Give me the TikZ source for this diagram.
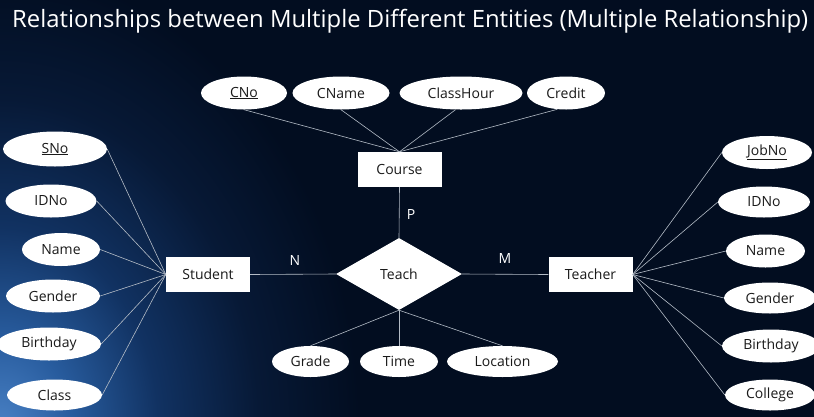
\documentclass[tikz,border=0pt]{standalone}
\usepackage{fontspec}
\setmainfont{Open Sans}
\usetikzlibrary{shapes.geometric}
\definecolor{bg}{HTML}{020D20}
\definecolor{glowa}{HTML}{4A82C6}
\definecolor{glowb}{HTML}{285C9E}
\definecolor{glowc}{HTML}{113262}
\definecolor{glowd}{HTML}{071936}
\definecolor{linkc}{HTML}{B4BCC6}
\definecolor{ink}{HTML}{1A1A1A}
% soft corner light of the backdrop
\pgfdeclareradialshading{cornerlight}{\pgfpoint{0bp}{0bp}}{%
  color(0bp)=(glowa); color(5bp)=(glowb); color(11bp)=(glowc);
  color(18bp)=(glowd); color(25bp)=(bg); color(50bp)=(bg)}
\pgfdeclarehorizontalshading{edgelight}{100bp}{%
  color(0bp)=(glowc); color(30bp)=(glowd); color(60bp)=(bg); color(100bp)=(bg)}
\begin{document}
\begin{tikzpicture}[x=1pt,y=-1pt,
  lbl/.style={font=\fontsize{14}{16}\selectfont},
  attr/.style={lbl, ellipse, fill=white, text=ink, inner sep=0pt, minimum height=33pt},
  entity/.style={lbl, rectangle, fill=white, text=ink, inner sep=0pt, minimum width=84pt, minimum height=35pt},
  rel/.style={lbl, diamond, fill=white, text=ink, inner sep=0pt, aspect=1.75, minimum width=126pt, minimum height=72pt},
  conn/.style={draw=linkc, line width=0.6pt},
  card/.style={lbl, text=white}]

% backdrop
\useasboundingbox (0,0) rectangle (814,416);
\fill[bg] (-5,-5) rectangle (819,421);
\begin{scope}
  \clip (-5,-5) rectangle (819,421);
  \shade[shading=edgelight] (-5,110) rectangle (75,421);
  \fill[bg] (-5,100) rectangle (819,110);
  \shade[shading=cornerlight] (0,430) ellipse (360 and 460);
\end{scope}

% title
\node[anchor=base west, text=white, inner sep=0pt] (title) at (12,27)
  {\resizebox{796pt}{!}{\fontsize{24}{28}\selectfont Relationships between Multiple Different Entities (Multiple Relationship)}};

% entities and relationship
\node[entity] (course) at (399.5,169.5) {Course};
\node[entity] (student) at (208,274.5) {Student};
\node[entity] (teacher) at (590.5,274.5) {Teacher};
\node[rel] (teach) at (399,274) {Teach};

% course attributes
\node[attr, minimum width=86pt] (cno) at (244,93) {\underline{CNo}};
\node[attr, minimum width=97pt] (cname) at (341,93) {CName};
\node[attr, minimum width=123pt] (classhour) at (461,93) {ClassHour};
\node[attr, minimum width=78pt] (credit) at (566,93) {Credit};

% student attributes
\node[attr, minimum width=104pt, minimum height=35pt] (sno) at (55,149) {\underline{SNo}};
\node[attr, minimum width=91pt] (sidno) at (51,201) {IDNo};
\node[attr, minimum width=78pt] (sname) at (61,249.5) {Name};
\node[attr, minimum width=94pt] (sgender) at (53,296) {Gender};
\node[attr, minimum width=104pt] (sbirthday) at (49,344) {Birthday};
\node[attr, minimum width=95pt, minimum height=31pt] (sclass) at (54.5,395) {Class};

% teacher attributes
\node[attr, minimum width=90pt] (jobno) at (767,152.5) {\underline{JobNo}};
\node[attr, minimum width=92pt, minimum height=31pt] (tidno) at (764,202) {IDNo};
\node[attr, minimum width=79pt] (tname) at (765.5,251) {Name};
\node[attr, minimum width=92pt, minimum height=31pt] (tgender) at (770,298) {Gender};
\node[attr, minimum width=98pt] (tbirthday) at (771,346) {Birthday};
\node[attr, minimum width=90pt, minimum height=31pt] (college) at (770,395) {College};

% relationship attributes
\node[attr, minimum width=77pt, minimum height=31pt] (grade) at (310.5,361.5) {Grade};
\node[attr, minimum width=78pt, minimum height=31pt] (time) at (399,361.5) {Time};
\node[attr, minimum width=111pt, minimum height=31pt] (location) at (502.5,361.5) {Location};

% attribute links
\draw[conn] (cno.south) -- (course.north);
\draw[conn] (cname.south) -- (course.north);
\draw[conn] (classhour.-108) -- (course.north);
\draw[conn] (credit.-118) -- (course.north);

\foreach \a in {sno,sidno,sname,sgender,sbirthday,sclass}
  \draw[conn] (\a.east) -- (student.west);
\foreach \a in {jobno,tidno,tname,tgender,tbirthday,college}
  \draw[conn] (\a.west) -- (teacher.east);
\foreach \a in {grade,time,location}
  \draw[conn] (\a.north) -- (teach.south);

% relationship links
\draw[conn] (course.south) -- (teach.north);
\draw[conn] (student.east) -- (teach.west);
\draw[conn] (teach.east) -- (teacher.west);

% cardinalities
\node[card] (pcard) at (411,214) {P};
\node[card] (ncard) at (295,260) {N};
\node[card] (mcard) at (505,258) {M};
\end{tikzpicture}
\end{document}
